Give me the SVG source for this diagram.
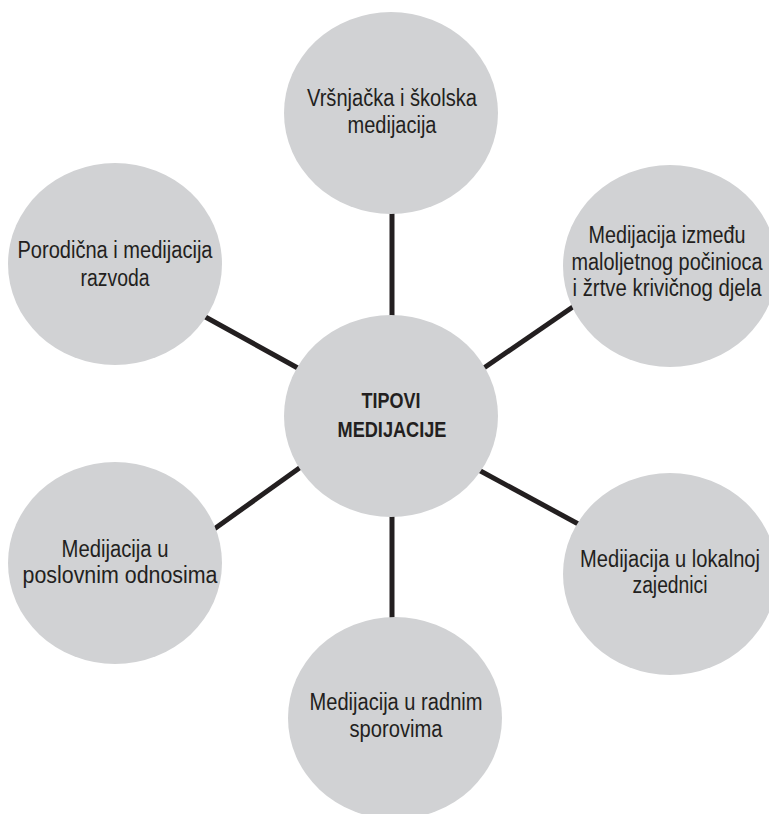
<svg xmlns="http://www.w3.org/2000/svg" width="769" height="814" viewBox="0 0 769 814">
<style>
.bg{fill:#ffffff}
.node{fill:#d1d2d4}
.lbl{font-family:"Liberation Sans Narrow","Liberation Sans",Arial,sans-serif;font-size:23.5px;fill:#231f20;text-anchor:middle}
.hub{font-family:"Liberation Sans Narrow","Liberation Sans",Arial,sans-serif;font-size:21.5px;font-weight:bold;fill:#231f20;text-anchor:middle}
.conn{stroke:#231f20;stroke-width:5;fill:none}
</style>
<rect class="bg" x="0" y="0" width="769" height="814"/>
<g id="connectors">
<line class="conn" x1="392" y1="205" x2="392" y2="325"/>
<line class="conn" x1="392" y1="505" x2="392" y2="625"/>
<line class="conn" x1="200" y1="314" x2="305" y2="372"/>
<line class="conn" x1="210" y1="532" x2="305" y2="464"/>
<line class="conn" x1="478" y1="372" x2="580" y2="302"/>
<line class="conn" x1="475" y1="468" x2="582" y2="526"/>
</g>
<g id="center">
<ellipse class="node" cx="391" cy="416" rx="107" ry="101"/>
<text class="hub" x="391" y="408" textLength="59" lengthAdjust="spacingAndGlyphs">TIPOVI</text>
<text class="hub" x="392" y="437" textLength="109" lengthAdjust="spacingAndGlyphs">MEDIJACIJE</text>
</g>
<g id="n-top">
<ellipse class="node" cx="391" cy="113" rx="107" ry="101"/>
<text class="lbl" x="392" y="106" textLength="170" lengthAdjust="spacingAndGlyphs">Vršnjačka i školska</text>
<text class="lbl" x="392" y="133" textLength="89" lengthAdjust="spacingAndGlyphs">medijacija</text>
</g>
<g id="n-upper-left">
<ellipse class="node" cx="115" cy="264" rx="107" ry="101"/>
<text class="lbl" x="115" y="258" textLength="195" lengthAdjust="spacingAndGlyphs">Porodična i medijacija</text>
<text class="lbl" x="115" y="286" textLength="69" lengthAdjust="spacingAndGlyphs">razvoda</text>
</g>
<g id="n-upper-right">
<ellipse class="node" cx="670" cy="266" rx="107" ry="101"/>
<text class="lbl" x="667" y="243" textLength="157" lengthAdjust="spacingAndGlyphs">Medijacija između</text>
<text class="lbl" x="667" y="270" textLength="191" lengthAdjust="spacingAndGlyphs">maloljetnog počinioca</text>
<text class="lbl" x="667" y="296" textLength="189" lengthAdjust="spacingAndGlyphs">i žrtve krivičnog djela</text>
</g>
<g id="n-lower-left">
<ellipse class="node" cx="115" cy="563" rx="107" ry="101"/>
<text class="lbl" x="115" y="557" textLength="107" lengthAdjust="spacingAndGlyphs">Medijacija u</text>
<text class="lbl" x="120" y="583" textLength="195" lengthAdjust="spacingAndGlyphs">poslovnim odnosima</text>
</g>
<g id="n-lower-right">
<ellipse class="node" cx="670" cy="574" rx="107" ry="101"/>
<text class="lbl" x="670" y="567" textLength="180" lengthAdjust="spacingAndGlyphs">Medijacija u lokalnoj</text>
<text class="lbl" x="670" y="593" textLength="75" lengthAdjust="spacingAndGlyphs">zajednici</text>
</g>
<g id="n-bottom">
<ellipse class="node" cx="395" cy="718" rx="107" ry="101"/>
<text class="lbl" x="396" y="710" textLength="173" lengthAdjust="spacingAndGlyphs">Medijacija u radnim</text>
<text class="lbl" x="396" y="737" textLength="93" lengthAdjust="spacingAndGlyphs">sporovima</text>
</g>
</svg>
